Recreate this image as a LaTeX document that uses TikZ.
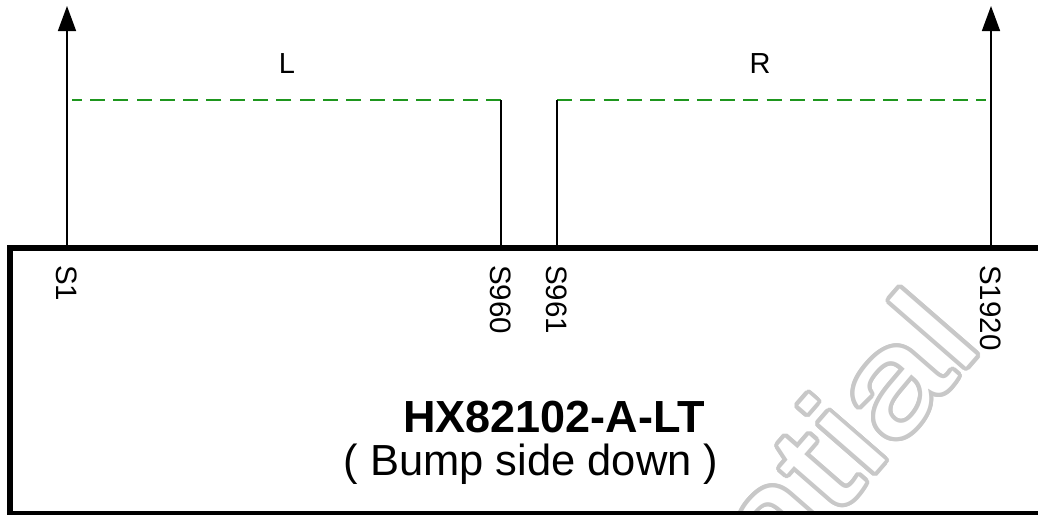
\documentclass[tikz,border=0pt]{standalone}
\usepackage{fontspec}
\setmainfont{Liberation Sans}
\usetikzlibrary{arrows.meta}
\definecolor{bankcol}{HTML}{1E961E}
\definecolor{markcol}{HTML}{C8C8C8}
\newcommand{\wmtext}{\scalebox{1.28}[1]{Confidential}}
\tikzset{
  chip/.style={draw, line width=5.5pt},
  pinline/.style={draw, line width=1.5pt},
  pinarrow/.style={pinline, -{Triangle[length=25pt, width=18pt]}},
  bankline/.style={draw=bankcol, line width=1.6pt, dash pattern=on 15pt off 8.3pt},
  pinlbl/.style={rotate=-90, anchor=west, inner sep=0pt, font=\fontsize{29.5}{31}\selectfont},
  banklbl/.style={anchor=base, inner sep=0pt, font=\fontsize{29}{31}\selectfont},
  titlelbl/.style={anchor=base, inner sep=0pt, font=\fontsize{45}{50}\selectfont\bfseries},
  sublbl/.style={anchor=base, inner sep=0pt, font=\fontsize{43.5}{50}\selectfont},
  wmark/.style={rotate=49, anchor=base east, inner sep=0pt, font=\fontsize{140}{150}\selectfont},
}

\begin{document}
\begin{tikzpicture}[x=1pt, y=-1pt]
  \useasboundingbox (0,0) rectangle (1038,514);
  \clip (0,0) rectangle (1038,514);

  % watermark, outlined by stamping gray copies under a white one
  \foreach \a in {0,15,...,345}
    \node[wmark, text=markcol] at ([shift={(\a:4)}]985,346) {\wmtext};
  \node[wmark, text=white] (wm) at (985,346) {\wmtext};

  % pin ends
  \coordinate (s1b)    at (67,248);
  \coordinate (s1t)    at (67,6);
  \coordinate (s960b)  at (501,248);
  \coordinate (s960t)  at (501,100);
  \coordinate (s961b)  at (557,248);
  \coordinate (s961t)  at (557,100);
  \coordinate (s1920b) at (991,248);
  \coordinate (s1920t) at (991,6);
  \coordinate (lend)   at (72,100);
  \coordinate (rend)   at (986,100);

  % banks
  \draw[bankline] (s960t) -- (lend);
  \draw[bankline] (s961t) -- (rend);
  \node[banklbl] (lbl) at (287,73) {L};
  \node[banklbl] (rbl) at (760,73) {R};

  % pins
  \draw[pinarrow] (s1b) -- (s1t);
  \draw[pinline]  (s960b) -- (s960t);
  \draw[pinline]  (s961b) -- (s961t);
  \draw[pinarrow] (s1920b) -- (s1920t);

  % chip outline
  \draw[chip] (10,514) -- (10,248) -- (1046,248) -- (1046,514) -- cycle;

  \node[pinlbl] (p1)    at (67,265)  {S1};
  \node[pinlbl] (p960)  at (501,265) {S960};
  \node[pinlbl] (p961)  at (557,265) {S961};
  \node[pinlbl] (p1920) at (991,265) {S1920};

  \node[titlelbl] (part) at (554,432) {HX82102-A-LT};
  \node[sublbl]   (note) at (531,475) {( Bump side down )};
\end{tikzpicture}
\end{document}
